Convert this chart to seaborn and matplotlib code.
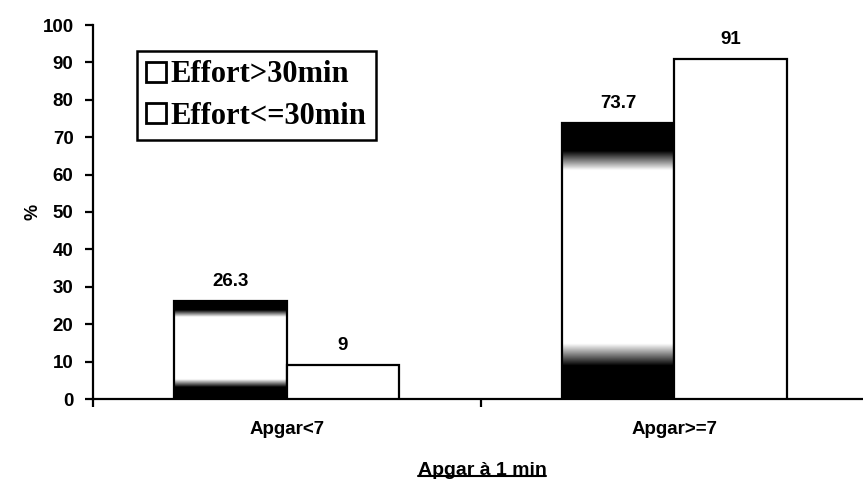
import numpy as np
import pandas as pd
import seaborn as sns
import matplotlib
matplotlib.use("Agg")
import matplotlib.pyplot as plt
from matplotlib.lines import Line2D

# Data
categories = ["Apgar<7", "Apgar>=7"]
groups = ["Effort>30min", "Effort<=30min"]
effort_long = [26.3, 73.7]
effort_short = [9, 91]
y_ticks = [0, 10, 20, 30, 40, 50, 60, 70, 80, 90, 100]

df = pd.DataFrame({
    "apgar": categories * 2,
    "effort": [groups[0]] * 2 + [groups[1]] * 2,
    "pct": effort_long + effort_short,
})

sns.set_theme(style="white")
plt.rcParams["font.family"] = ["Liberation Sans", "DejaVu Sans"]
plt.rcParams["text.color"] = "black"
plt.rcParams["axes.labelcolor"] = "black"
plt.rcParams["xtick.color"] = "black"
plt.rcParams["ytick.color"] = "black"

fig = plt.figure(figsize=(8.63, 4.82), dpi=100)
ax = fig.add_axes([93 / 863, 83 / 482, 775 / 863, 374 / 482])

sns.barplot(data=df, x="apgar", y="pct", hue="effort", hue_order=groups,
            order=categories, width=0.58, dodge=True,
            palette=["white", "white"], edgecolor="black", linewidth=1.6,
            saturation=1, legend=False, ax=ax, zorder=3)

# Shaded fill for the long-effort bars: dark at top and bottom, light in the middle
t = np.linspace(0, 1, 400)
shade = np.ones_like(t)
shade = np.where(t < 0.12, 0.0, shade)
shade = np.where((t >= 0.12) & (t < 0.2), (t - 0.12) / 0.08, shade)
shade = np.where((t > 0.83) & (t <= 0.9), (0.9 - t) / 0.07, shade)
shade = np.where(t > 0.9, 0.0, shade)
grad = shade[::-1].reshape(-1, 1)

for bar in ax.containers[0]:
    x0, y0 = bar.get_x(), bar.get_y()
    w, h = bar.get_width(), bar.get_height()
    im = ax.imshow(grad, extent=[x0, x0 + w, y0, y0 + h], aspect="auto",
                   cmap="gray", vmin=0, vmax=1, zorder=2, interpolation="bilinear")
    im.set_clip_path(bar)
    bar.set_facecolor("none")

ax.set_xlim(-0.5, 1.5)
ax.set_ylim(0, 100)

for cont in ax.containers:
    ax.bar_label(cont, fmt="%g", padding=8, fontsize=13.5, fontweight="bold")

# Axes styling
for side in ["top", "right"]:
    ax.spines[side].set_visible(False)
for side in ["left", "bottom"]:
    ax.spines[side].set_color("black")
    ax.spines[side].set_linewidth(1.6)

ax.set_yticks(y_ticks)
ax.set_yticklabels([str(v) for v in y_ticks], fontsize=13.5, fontweight="bold")
ax.tick_params(axis="y", left=True, direction="out", length=6, width=1.6, pad=8)

ax.set_xticks([-0.5, 0.5, 1.5])
ax.set_xticklabels(["", "", ""])
ax.set_xticks([0, 1], minor=True)
ax.set_xticklabels(categories, minor=True, fontsize=13.5, fontweight="bold")
ax.tick_params(axis="x", which="major", bottom=True, direction="out", length=6, width=1.6)
ax.tick_params(axis="x", which="minor", bottom=True, length=0, pad=16)

ax.set_ylabel("%", fontsize=13, fontweight="bold")
ax.yaxis.set_label_coords(-0.066, 0.5)
ax.set_xlabel("Apgar à 1 min", fontsize=14, fontweight="bold")
ax.xaxis.set_label_coords((482 - 93) / 775, -0.168)

# Legend with hollow square markers
handles = [Line2D([], [], marker="s", linestyle="none", markersize=15,
                  markerfacecolor="white", markeredgecolor="black",
                  markeredgewidth=2.0) for _ in groups]
leg = ax.legend(handles, groups, loc="upper left", bbox_to_anchor=(0.057, 0.93),
                borderaxespad=0, frameon=True, fancybox=False, framealpha=1,
                edgecolor="black", handlelength=0.6,
                handletextpad=0.2, borderpad=0.3, labelspacing=0.4,
                prop={"family": "Liberation Serif", "weight": "bold", "size": 22})
leg.get_frame().set_linewidth(1.8)

# Underline the axis title
fig.canvas.draw()
bb = ax.xaxis.label.get_window_extent().transformed(fig.transFigure.inverted())
fig.add_artist(Line2D([bb.x0, bb.x1], [bb.y0 + 0.006, bb.y0 + 0.006],
                      transform=fig.transFigure, color="black", linewidth=1.5))

fig.savefig("out.png", dpi=100)
